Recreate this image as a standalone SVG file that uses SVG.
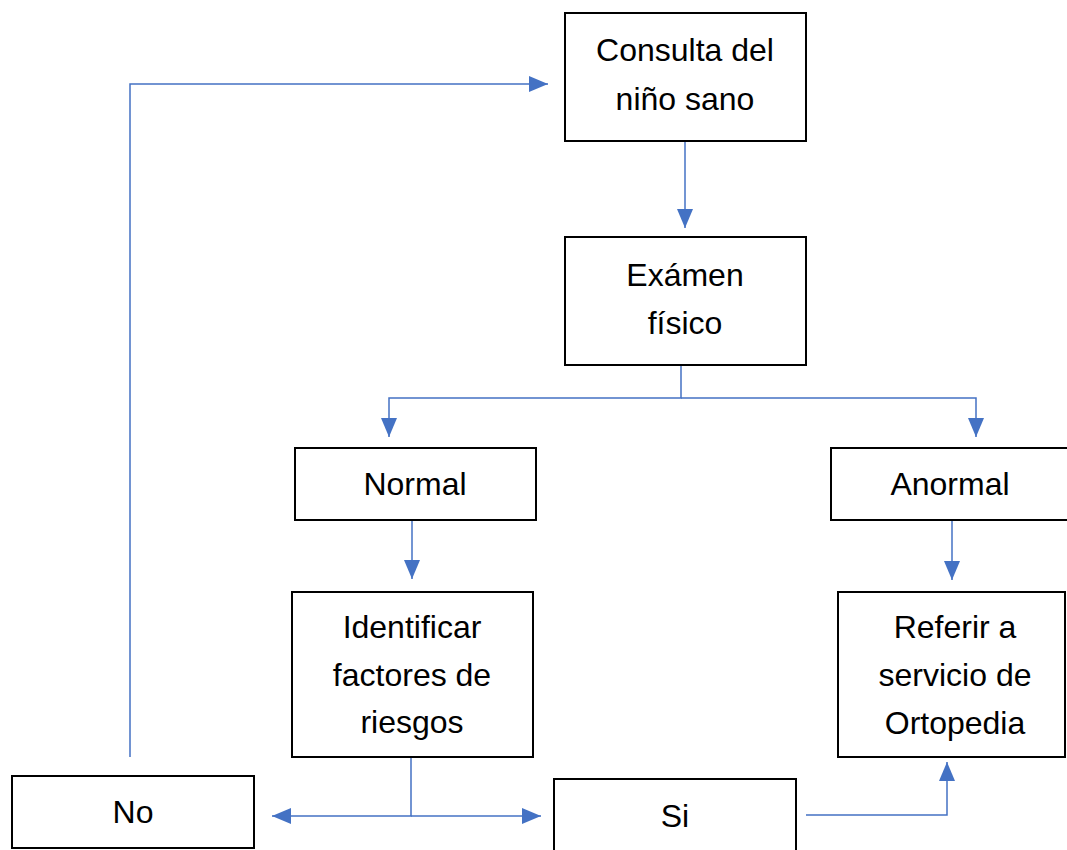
<svg xmlns="http://www.w3.org/2000/svg" width="1067" height="850" viewBox="0 0 1067 850">
<style>
.box{fill:#fff;stroke:#000;stroke-width:2}
.t{font-family:"Liberation Sans",Arial,sans-serif;font-size:32px;fill:#000;text-anchor:middle}
.c{fill:none;stroke:#4472C4;stroke-width:1.5}
</style>
<defs>
<marker id="ah" viewBox="0 0 19 16" refX="19" refY="8" markerWidth="19" markerHeight="16" markerUnits="userSpaceOnUse" orient="auto">
<path d="M0,0 L19,8 L0,16 Z" fill="#4472C4"/>
</marker>
</defs>
<rect width="1067" height="850" fill="#fff"/>
<g id="connectors">
<path class="c" d="M685,141 V228" marker-end="url(#ah)"/>
<path class="c" d="M681,365 V398 H389 V437" marker-end="url(#ah)"/>
<path class="c" d="M681,398 H976 V437" marker-end="url(#ah)"/>
<path class="c" d="M412,520 V579" marker-end="url(#ah)"/>
<path class="c" d="M952,520 V580" marker-end="url(#ah)"/>
<path class="c" d="M411,757 V816 H272" marker-end="url(#ah)"/>
<path class="c" d="M411,816 H541" marker-end="url(#ah)"/>
<path class="c" d="M806,815 H947 V762" marker-end="url(#ah)"/>
<path class="c" d="M130,757 V84 H548" marker-end="url(#ah)"/>
</g>
<g id="consulta">
<rect class="box" x="565" y="13" width="241" height="128"/>
<text class="t" x="685" y="61">Consulta del</text>
<text class="t" x="685" y="110">niño sano</text>
</g>
<g id="examen">
<rect class="box" x="565" y="237" width="241" height="128"/>
<text class="t" x="685" y="286">Exámen</text>
<text class="t" x="685" y="334">físico</text>
</g>
<g id="normal">
<rect class="box" x="295" y="448" width="241" height="72"/>
<text class="t" x="415" y="495">Normal</text>
</g>
<g id="anormal">
<rect class="box" x="831" y="448" width="245" height="72"/>
<text class="t" x="950" y="495">Anormal</text>
</g>
<g id="identificar">
<rect class="box" x="292" y="592" width="241" height="165"/>
<text class="t" x="412" y="638">Identificar</text>
<text class="t" x="412" y="686">factores de</text>
<text class="t" x="412" y="733">riesgos</text>
</g>
<g id="referir">
<rect class="box" x="838" y="592" width="227" height="165"/>
<text class="t" x="955" y="638">Referir a</text>
<text class="t" x="955" y="686">servicio de</text>
<text class="t" x="955" y="734">Ortopedia</text>
</g>
<g id="no">
<rect class="box" x="12" y="776" width="242" height="72"/>
<text class="t" x="133" y="823">No</text>
</g>
<g id="si">
<rect class="box" x="554" y="779" width="242" height="80"/>
<text class="t" x="675" y="827">Si</text>
</g>
</svg>
